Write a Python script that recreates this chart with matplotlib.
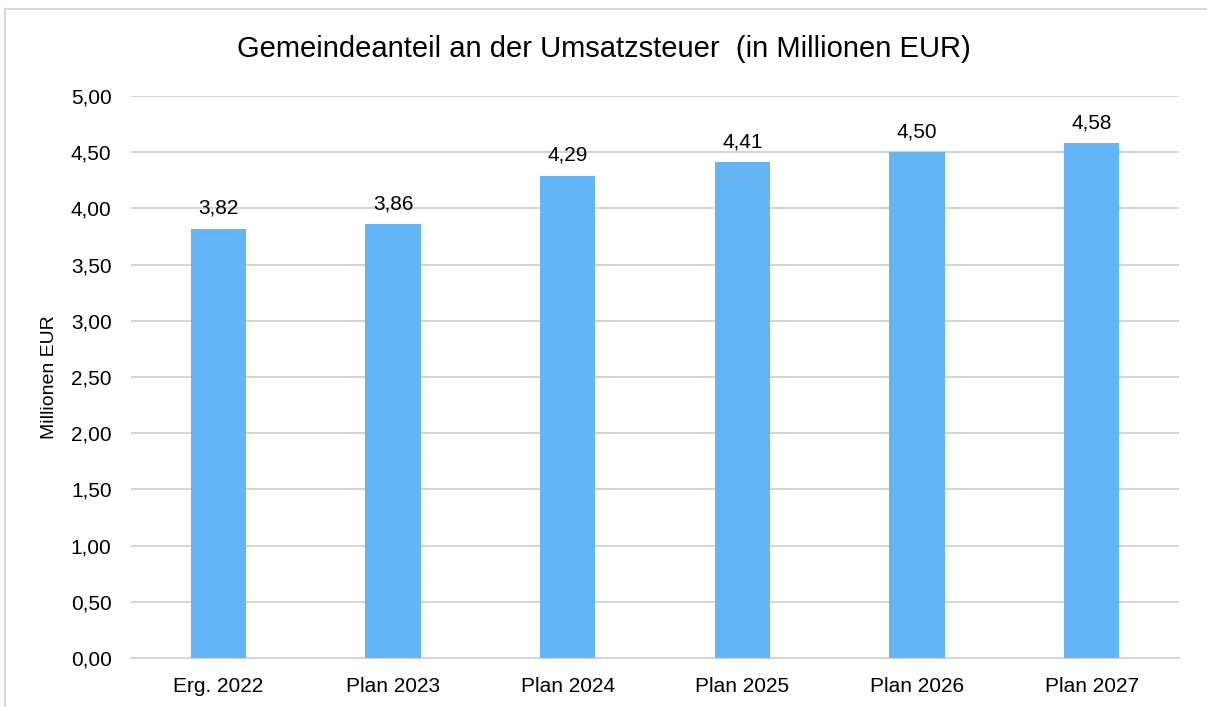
import matplotlib
matplotlib.use("Agg")
import matplotlib.pyplot as plt
from matplotlib.lines import Line2D
from matplotlib.ticker import FuncFormatter, MultipleLocator

kategorien = ["Erg. 2022", "Plan 2023", "Plan 2024", "Plan 2025", "Plan 2026", "Plan 2027"]
werte = [3.82, 3.86, 4.29, 4.41, 4.50, 4.58]

plt.rcParams["font.family"] = ["Liberation Sans", "DejaVu Sans"]

fig = plt.figure(figsize=(12.07, 7.07), dpi=100)
ax = fig.add_axes([131 / 1207, 1 - 658 / 707, (1179 - 131) / 1207, (658 - 96) / 707])

x = range(len(kategorien))
bars = ax.bar(x, werte, width=0.315, color="#64b5f6", zorder=3)

ax.set_xlim(-0.5, len(kategorien) - 0.5)
ax.set_ylim(0, 5)
ax.yaxis.set_major_locator(MultipleLocator(0.5))
ax.yaxis.set_major_formatter(FuncFormatter(lambda v, p: f"{v:.2f}".replace(".", ",")))
ax.set_xticks(list(x))
ax.set_xticklabels(kategorien)
ax.grid(axis="y", color="#d4d4d4", linewidth=1.4, zorder=0)
for s in ["top", "right", "left"]:
    ax.spines[s].set_visible(False)
ax.spines["bottom"].set_color("#d4d4d4")
ax.spines["bottom"].set_linewidth(1.4)
ax.tick_params(axis="both", length=0, labelsize=15, colors="#000000")
ax.tick_params(axis="x", pad=14)
ax.tick_params(axis="y", pad=14)

for b, v in zip(bars, werte):
    ax.annotate(f"{v:.2f}".replace(".", ","), (b.get_x() + b.get_width() / 2, v),
                xytext=(0, 8), textcoords="offset points", ha="center", va="bottom",
                fontsize=15)

ax.set_ylabel("Millionen EUR", fontsize=14, labelpad=9)
fig.text(0.5, 1 - 49 / 707, "Gemeindeanteil an der Umsatzsteuer  (in Millionen EUR)",
         ha="center", va="center", fontsize=21)

# Rahmen links und oben
fig.add_artist(Line2D([5 / 1207, 5 / 1207], [0, 1 - 9 / 707], transform=fig.transFigure,
                      color="#d9d9d9", linewidth=1.5))
fig.add_artist(Line2D([5 / 1207, 1], [1 - 9 / 707, 1 - 9 / 707], transform=fig.transFigure,
                      color="#d9d9d9", linewidth=1.5))

fig.savefig("out.png", dpi=100)
